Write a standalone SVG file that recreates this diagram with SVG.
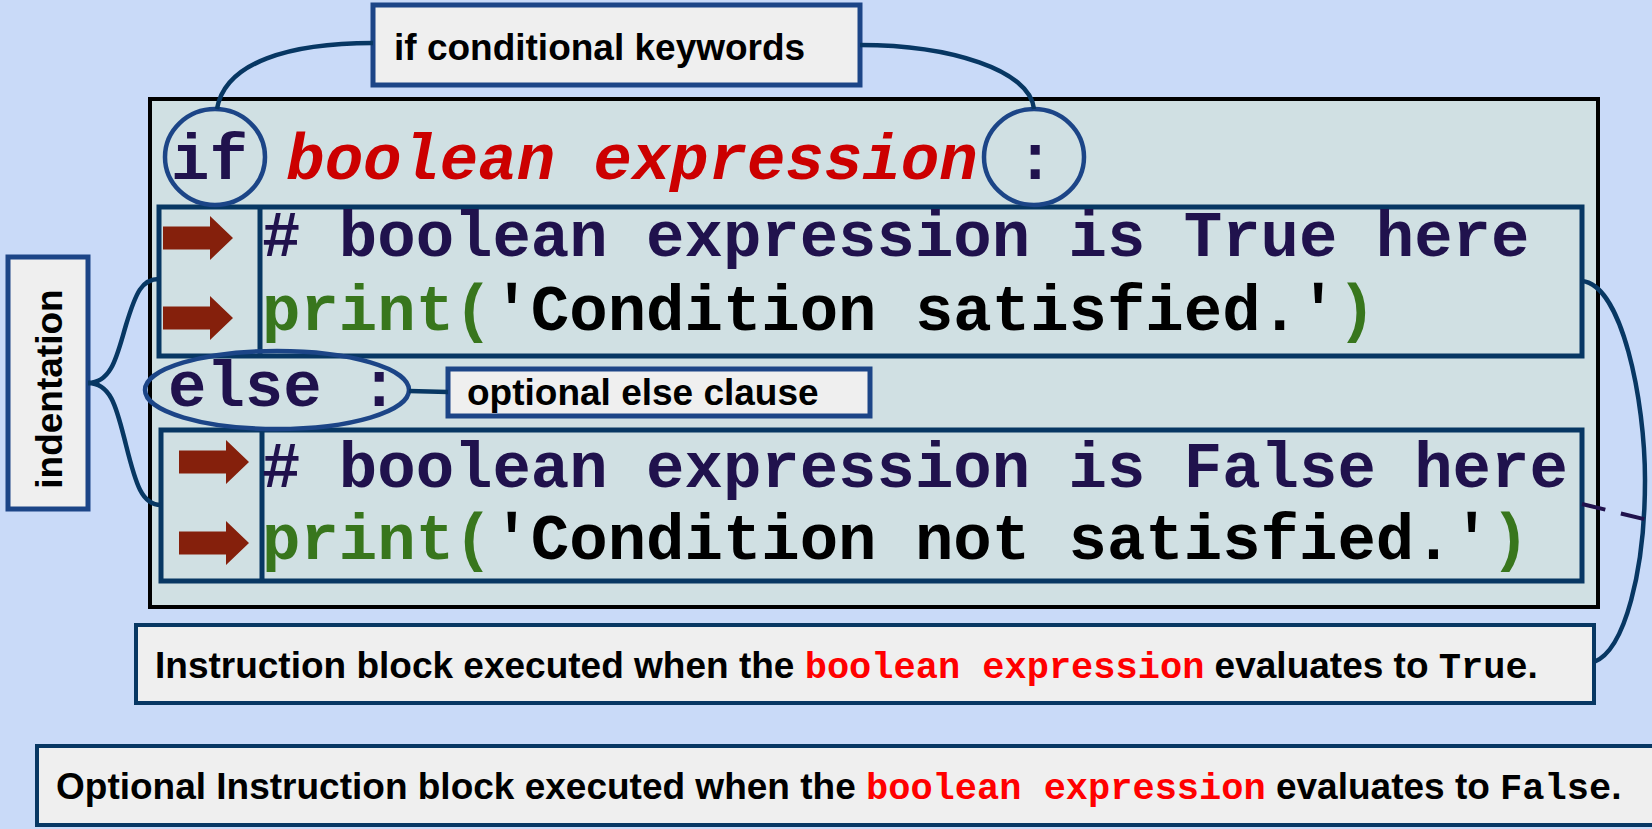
<svg xmlns="http://www.w3.org/2000/svg" width="1652" height="829" viewBox="0 0 1652 829">
<defs>
<style>
.sans{font-family:"Liberation Sans",Arial,sans-serif;font-weight:bold;font-size:37px;fill:#000}
.mono{font-family:"Liberation Mono","Courier New",monospace;font-weight:bold}
.code{font-family:"Liberation Mono","Courier New",monospace;font-weight:bold;font-size:64px}
.navy{fill:#20124d}
.green{fill:#38761d}
.blk{fill:#000}
.red{fill:#cc0000;font-style:italic}
.red2{fill:#ff0000}
.label{fill:#efefef;stroke:#1c4587;stroke-width:5}
.label2{fill:#efefef;stroke:#073763;stroke-width:4}
.block{fill:none;stroke:#073763;stroke-width:5}
.ell{fill:none;stroke:#1c4587;stroke-width:4.5}
.conn{fill:none;stroke:#073763;stroke-width:4.5}
.arrow{fill:#85200c}
</style>
<path id="arr" d="M0,-11.5 H47 V-22 L70,0 L47,22 V11.5 H0 Z"/>
</defs>
<rect x="0" y="0" width="1652" height="829" fill="#c9daf8"/>

<g id="code-box">
<rect x="150" y="99" width="1448" height="508" fill="#d0e0e3" stroke="#000" stroke-width="4"/>
</g>

<g id="true-block">
<rect class="block" x="159" y="207" width="1423" height="149"/>
<line class="block" x1="260" y1="207" x2="260" y2="356"/>
<use href="#arr" class="arrow" transform="translate(163,238)"/>
<use href="#arr" class="arrow" transform="translate(163,318)"/>
<text class="code navy" x="262" y="256"># boolean expression is True here</text>
<text class="code" x="262" y="330"><tspan class="green">print(</tspan><tspan class="blk">'Condition satisfied.'</tspan><tspan class="green">)</tspan></text>
</g>

<g id="false-block">
<rect class="block" x="161" y="430" width="1421" height="151"/>
<line class="block" x1="262" y1="430" x2="262" y2="581"/>
<use href="#arr" class="arrow" transform="translate(179,462)"/>
<use href="#arr" class="arrow" transform="translate(179,543)"/>
<text class="code navy" x="262" y="487"># boolean expression is False here</text>
<text class="code" x="262" y="559"><tspan class="green">print(</tspan><tspan class="blk">'Condition not satisfied.'</tspan><tspan class="green">)</tspan></text>
</g>

<g id="if-line">
<text class="code" x="171" y="179"><tspan class="navy">if </tspan><tspan class="red">boolean expression</tspan><tspan class="navy"> :</tspan></text>
<ellipse class="ell" cx="215" cy="157" rx="50" ry="48"/>
<ellipse class="ell" cx="1034" cy="157" rx="50" ry="48"/>
</g>

<g id="else-line">
<text class="code navy" x="168" y="406">else :</text>
<ellipse class="ell" cx="277" cy="390" rx="132" ry="39"/>
</g>

<g id="keywords-label">
<rect class="label" x="373" y="5" width="487" height="80"/>
<text class="sans" x="394" y="60">if conditional keywords</text>
</g>

<g id="else-label">
<rect class="label" x="448" y="369" width="422" height="47"/>
<text class="sans" x="467" y="405">optional else clause</text>
</g>

<g id="indentation-label">
<rect class="label" x="8" y="257" width="80" height="252"/>
<text class="sans" text-anchor="middle" transform="translate(62,389) rotate(-90)">indentation</text>
</g>

<g id="true-label">
<rect class="label2" x="136" y="625" width="1458" height="78"/>
<text class="sans" x="155" y="678">Instruction block executed when the <tspan class="mono red2">boolean expression</tspan> evaluates to <tspan class="mono">True</tspan>.</text>
</g>

<g id="false-label">
<rect class="label2" x="37" y="746" width="1625" height="79"/>
<text class="sans" x="56" y="799">Optional Instruction block executed when the <tspan class="mono red2">boolean expression</tspan> evaluates to <tspan class="mono">False</tspan>.</text>
</g>

<g id="connectors">
<path class="conn" d="M217,109 C225,62 290,43 373,43"/>
<path class="conn" d="M860,45 C950,45 1030,70 1034,109"/>
<path class="conn" d="M409,391 L448,392"/>
<path class="conn" stroke-width="5.5" d="M88,383 C112,383 117,355 126,325 C136,292 142,279 159,279"/>
<path class="conn" stroke-width="5.5" d="M88,383 C112,383 117,410 126,445 C136,485 142,505 161,505"/>
<path class="conn" d="M1582,281 C1622,285 1645,400 1645,480 C1645,570 1625,650 1594,662"/>
<path fill="none" stroke="#20124d" stroke-width="4" stroke-dasharray="24 16" d="M1582,504 L1652,521"/>
</g>
</svg>
